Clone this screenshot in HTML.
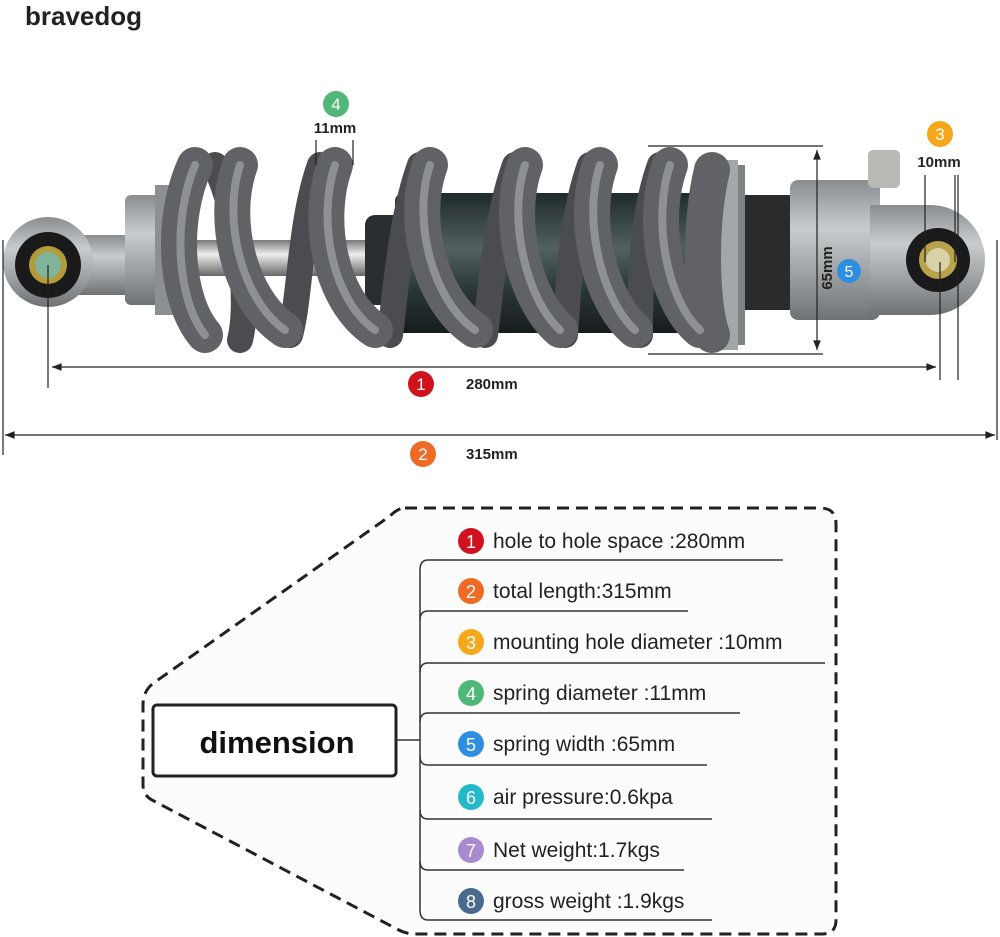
<!DOCTYPE html>
<html><head><meta charset="utf-8"><style>
html,body{margin:0;padding:0;background:#fff;}
svg{display:block}
text{font-family:"Liberation Sans",Arial,sans-serif}
</style></head><body>
<svg width="1000" height="937" viewBox="0 0 1000 937" xmlns="http://www.w3.org/2000/svg">
<defs>
<linearGradient id="metal" x1="0" y1="0" x2="0" y2="1">
<stop offset="0" stop-color="#8a8d90"/><stop offset="0.35" stop-color="#c9ccce"/><stop offset="0.7" stop-color="#9a9da0"/><stop offset="1" stop-color="#6f7275"/></linearGradient>
<linearGradient id="body" x1="0" y1="0" x2="0" y2="1">
<stop offset="0" stop-color="#1f2a2c"/><stop offset="0.4" stop-color="#52605f"/><stop offset="0.7" stop-color="#2a3536"/><stop offset="1" stop-color="#161c1d"/></linearGradient>
<linearGradient id="rod" x1="0" y1="0" x2="0" y2="1">
<stop offset="0" stop-color="#777"/><stop offset="0.4" stop-color="#eee"/><stop offset="1" stop-color="#666"/></linearGradient>
<marker id="ar" viewBox="0 0 10 10" refX="10" refY="5" markerWidth="10" markerHeight="8" orient="auto-start-reverse"><path d="M0,1 L10,5 L0,9 z" fill="#222"/></marker>
</defs>

<text x="25" y="25" font-size="26" font-weight="bold" fill="#222">bravedog</text>

<!-- shock body -->
<rect x="70" y="235" width="70" height="60" fill="url(#metal)"/>
<circle cx="48" cy="262" r="45" fill="url(#metal)"/>
<circle cx="48" cy="265" r="33" fill="#1a1a1a"/>
<circle cx="48" cy="265" r="19" fill="#b39a3a"/>
<circle cx="48" cy="265" r="13" fill="#7fb39a"/>
<rect x="125" y="195" width="60" height="110" rx="6" fill="url(#metal)"/>
<rect x="155" y="185" width="30" height="130" fill="#8d9093"/>
<rect x="185" y="240" width="215" height="36" fill="url(#rod)"/>
<rect x="365" y="215" width="40" height="90" rx="10" fill="#2a2e30"/>
<rect x="395" y="193" width="310" height="140" rx="8" fill="url(#body)"/>
<rect x="700" y="165" width="45" height="180" fill="#7d8184"/>
<rect x="720" y="160" width="18" height="190" fill="#a3a7aa"/>
<rect x="745" y="195" width="50" height="115" fill="#2b2b2b"/>
<rect x="790" y="180" width="90" height="140" rx="8" fill="url(#metal)"/>
<path d="M870,205 L930,205 A55,55 0 0 1 930,315 L870,315 z" fill="url(#metal)"/>
<rect x="868" y="150" width="32" height="38" rx="5" fill="#b9b9b6"/>
<circle cx="938" cy="260" r="32" fill="#1a1a1a"/>
<circle cx="938" cy="260" r="19" fill="#b8a34c"/>
<circle cx="938" cy="260" r="12" fill="#d9d2a8"/>

<!-- spring coils -->
<g fill="none" stroke-linecap="round">
<g stroke="#4a4c4f" stroke-width="26">
<path d="M215,165 C240,220 250,300 240,340"/>
<path d="M320,165 C300,220 300,300 290,335"/>
<path d="M420,165 C400,220 395,300 390,335"/>
<path d="M515,165 C495,220 490,300 485,335"/>
<path d="M590,165 C570,220 568,300 565,335"/>
<path d="M660,165 C640,220 640,300 640,335"/>
</g>
<g stroke="#606265" stroke-width="36">
<path d="M195,165 C170,220 175,300 205,335"/>
<path d="M240,165 C220,220 240,300 285,330"/>
<path d="M335,165 C315,220 330,300 375,330"/>
<path d="M430,165 C410,220 430,300 475,330"/>
<path d="M525,165 C505,220 525,300 560,330"/>
<path d="M600,165 C580,220 600,300 635,330"/>
<path d="M670,165 C650,220 665,300 700,330"/>
<path d="M712,170 C700,220 700,300 712,335"/>
</g>
<g stroke="#8e9194" stroke-width="8">
<path d="M195,165 C172,220 177,300 205,335"/>
<path d="M240,165 C222,220 242,300 285,330"/>
<path d="M335,165 C317,220 332,300 375,330"/>
<path d="M430,165 C412,220 432,300 475,330"/>
<path d="M525,165 C507,220 527,300 560,330"/>
<path d="M600,165 C582,220 602,300 635,330"/>
<path d="M670,165 C652,220 667,300 700,330"/>
</g>
</g>

<!-- dimension lines -->
<g stroke="#222" stroke-width="1.2">
<line x1="3" y1="240" x2="3" y2="455"/>
<line x1="997" y1="240" x2="997" y2="440"/>
<line x1="48" y1="265" x2="48" y2="388"/>
<line x1="940" y1="262" x2="940" y2="380"/>
<line x1="958" y1="175" x2="958" y2="380"/>
<line x1="52" y1="367" x2="936" y2="367" marker-start="url(#ar)" marker-end="url(#ar)"/>
<line x1="5" y1="435" x2="995" y2="435" marker-start="url(#ar)" marker-end="url(#ar)"/>
<line x1="316" y1="140" x2="316" y2="165"/>
<line x1="353" y1="140" x2="353" y2="165"/>
<line x1="925" y1="175" x2="925" y2="262"/>
<line x1="955" y1="175" x2="955" y2="262"/>
<line x1="648" y1="146" x2="823" y2="146"/>
<line x1="648" y1="354" x2="823" y2="354"/>
<line x1="817" y1="150" x2="817" y2="350" marker-start="url(#ar)" marker-end="url(#ar)"/>
</g>
<circle cx="336" cy="104" r="13" fill="#4fb878"/><text x="336" y="110" font-size="17" fill="#fff" text-anchor="middle">4</text>
<text x="335" y="133" font-size="15" font-weight="bold" fill="#222" text-anchor="middle">11mm</text>
<circle cx="940" cy="134" r="13" fill="#f5a81c"/><text x="940" y="140" font-size="17" fill="#fff" text-anchor="middle">3</text>
<text x="939" y="167" font-size="15" font-weight="bold" fill="#222" text-anchor="middle">10mm</text>
<circle cx="849" cy="271" r="12" fill="#2e8ee0"/><text x="849" y="277" font-size="16" fill="#fff" text-anchor="middle">5</text>
<text transform="translate(832,268) rotate(-90)" font-size="15" font-weight="bold" fill="#222" text-anchor="middle">65mm</text>
<circle cx="421" cy="384" r="13" fill="#d0121e"/><text x="421" y="390" font-size="17" fill="#fff" text-anchor="middle">1</text>
<text x="466" y="389" font-size="15" font-weight="bold" fill="#222">280mm</text>
<circle cx="423" cy="454" r="13" fill="#ee6a25"/><text x="423" y="460" font-size="17" fill="#fff" text-anchor="middle">2</text>
<text x="466" y="459" font-size="15" font-weight="bold" fill="#222">315mm</text>

<!-- dimension panel -->
<path d="M405,508 L820,508 Q836,508 836,524 L836,920 Q836,934 822,934 L415,934 Q405,934 395,928 L152,800 Q143,795 143,785 L143,705 Q143,690 155,682 L390,516 Q398,508 405,508 z" fill="#fcfcfd" stroke="#222" stroke-width="3" stroke-dasharray="12,7"/>
<rect x="153" y="705" width="243" height="71" rx="4" fill="#fff" stroke="#222" stroke-width="3"/>
<text x="277" y="753" font-size="31" font-weight="bold" fill="#111" text-anchor="middle">dimension</text>
<g stroke="#333" stroke-width="1.5" fill="none">
<line x1="396" y1="740" x2="420" y2="740"/>
<path d="M420,570 Q420,560 428,560 L783,560"/>
<path d="M420,570 L420,910 Q420,920 428,920 L712,920"/>
<path d="M420,620 Q420,611 428,611 L688,611"/>
<path d="M420,672 Q420,663 428,663 L825,663"/>
<path d="M420,722 Q420,713 428,713 L740,713"/>
<path d="M420,756 Q420,765 428,765 L707,765"/>
<path d="M420,810 Q420,819 428,819 L712,819"/>
<path d="M420,861 Q420,870 428,870 L684,870"/>
</g>
<g font-size="21" fill="#222">
<circle cx="471" cy="541" r="13" fill="#d0121e"/><text x="471" y="548" fill="#fff" font-size="18" text-anchor="middle">1</text><text x="493" y="548">hole to hole space :280mm</text>
<circle cx="471" cy="591" r="13" fill="#ee6a25"/><text x="471" y="598" fill="#fff" font-size="18" text-anchor="middle">2</text><text x="493" y="598">total length:315mm</text>
<circle cx="471" cy="642" r="13" fill="#f5a81c"/><text x="471" y="649" fill="#fff" font-size="18" text-anchor="middle">3</text><text x="493" y="649">mounting hole diameter :10mm</text>
<circle cx="471" cy="693" r="13" fill="#4fb878"/><text x="471" y="700" fill="#fff" font-size="18" text-anchor="middle">4</text><text x="493" y="700">spring diameter :11mm</text>
<circle cx="471" cy="744" r="13" fill="#2e8ee0"/><text x="471" y="751" fill="#fff" font-size="18" text-anchor="middle">5</text><text x="493" y="751">spring width :65mm</text>
<circle cx="471" cy="797" r="13" fill="#23b9c9"/><text x="471" y="804" fill="#fff" font-size="18" text-anchor="middle">6</text><text x="493" y="804">air pressure:0.6kpa</text>
<circle cx="471" cy="850" r="13" fill="#a98ad0"/><text x="471" y="857" fill="#fff" font-size="18" text-anchor="middle">7</text><text x="493" y="857">Net weight:1.7kgs</text>
<circle cx="471" cy="901" r="13" fill="#4a6a90"/><text x="471" y="908" fill="#fff" font-size="18" text-anchor="middle">8</text><text x="493" y="908">gross weight :1.9kgs</text>
</g>
</svg>
</body></html>
